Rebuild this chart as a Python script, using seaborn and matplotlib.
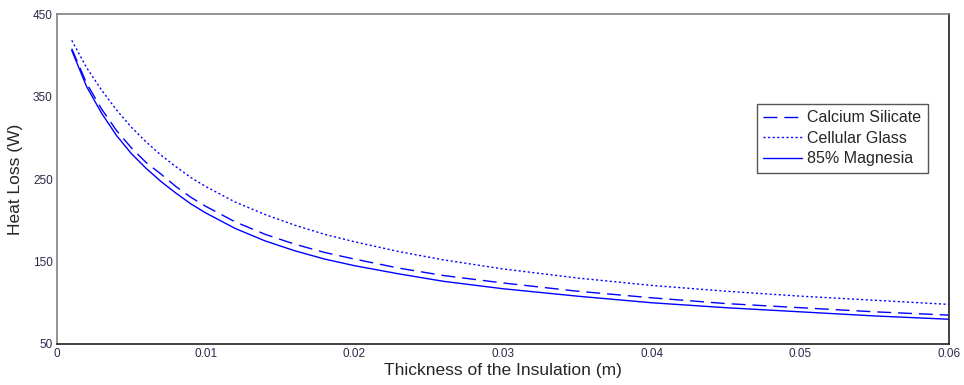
import pandas as pd
import seaborn as sns
import matplotlib
matplotlib.use('Agg')
import matplotlib.pyplot as plt

# Thickness of insulation (m) and heat loss (W)
thickness = [0.001, 0.002, 0.003, 0.004, 0.005, 0.006, 0.007, 0.008, 0.009, 0.010,
             0.012, 0.014, 0.016, 0.018, 0.020, 0.023, 0.026, 0.030, 0.035, 0.040,
             0.045, 0.050, 0.055, 0.060]
calcium_silicate = [408, 366, 335, 309, 288, 270, 256, 241, 228, 217,
                    198, 183, 171, 161, 153, 142, 133, 124, 114, 106,
                    99, 94, 89, 85]
cellular_glass = [418, 385, 358, 334, 313, 295, 279, 265, 252, 241,
                  222, 207, 194, 183, 174, 162, 152, 141, 130, 121,
                  114, 108, 103, 98]
magnesia = [406, 362, 330, 303, 281, 263, 247, 233, 220, 209,
            190, 175, 163, 153, 145, 135, 126, 117, 108, 100,
            94, 89, 84, 80]

x_ticks = [0, 0.01, 0.02, 0.03, 0.04, 0.05, 0.06]
x_tick_labels = ['0', '0.01', '0.02', '0.03', '0.04', '0.05', '0.06']
y_ticks = [50, 150, 250, 350, 450]

sns.set_style('white')
plt.rcParams['font.family'] = ['Liberation Sans', 'DejaVu Sans']

fig = plt.figure(figsize=(9.64, 3.85), dpi=100)
ax = fig.add_axes([0.059, 0.1065, 0.9255, 0.857])

sns.lineplot(x=thickness, y=calcium_silicate, ax=ax, color='#0000ff', linewidth=1,
             dashes=False, label='Calcium Silicate')
sns.lineplot(x=thickness, y=cellular_glass, ax=ax, color='#0000ff', linewidth=1,
             dashes=False, label='Cellular Glass')
sns.lineplot(x=thickness, y=magnesia, ax=ax, color='#0000ff', linewidth=1,
             dashes=False, label='85% Magnesia')

lines = ax.get_lines()
lines[0].set_dashes((10, 5))
lines[1].set_dashes((1.5, 1.8))

ax.set_xlim(0, 0.06)
ax.set_ylim(50, 450)
ax.set_xticks(x_ticks)
ax.set_xticklabels(x_tick_labels)
ax.set_yticks(y_ticks)
ax.tick_params(direction='in', length=5, width=0.8, labelsize=8.5, colors='#222222',
               labelcolor='#2a2a4a', pad=3)

for side in ['left', 'top']:
    ax.spines[side].set_color('#808080')
for side in ['bottom', 'right']:
    ax.spines[side].set_color('#202020')
for side in ax.spines:
    ax.spines[side].set_linewidth(1.2)
    ax.spines[side].set_visible(True)

ax.set_xlabel('Thickness of the Insulation (m)', fontsize=12.5, labelpad=2)
ax.set_ylabel('Heat Loss (W)', fontsize=12.5, labelpad=7)

leg = ax.legend(loc='upper right', bbox_to_anchor=(0.985, 0.752), fontsize=11.5,
                fancybox=False, framealpha=1, edgecolor='#555555',
                handlelength=2.4, handletextpad=0.35, borderpad=0.4, labelspacing=0.35)
leg.get_frame().set_linewidth(1.0)

fig.savefig('out.png', dpi=100)
